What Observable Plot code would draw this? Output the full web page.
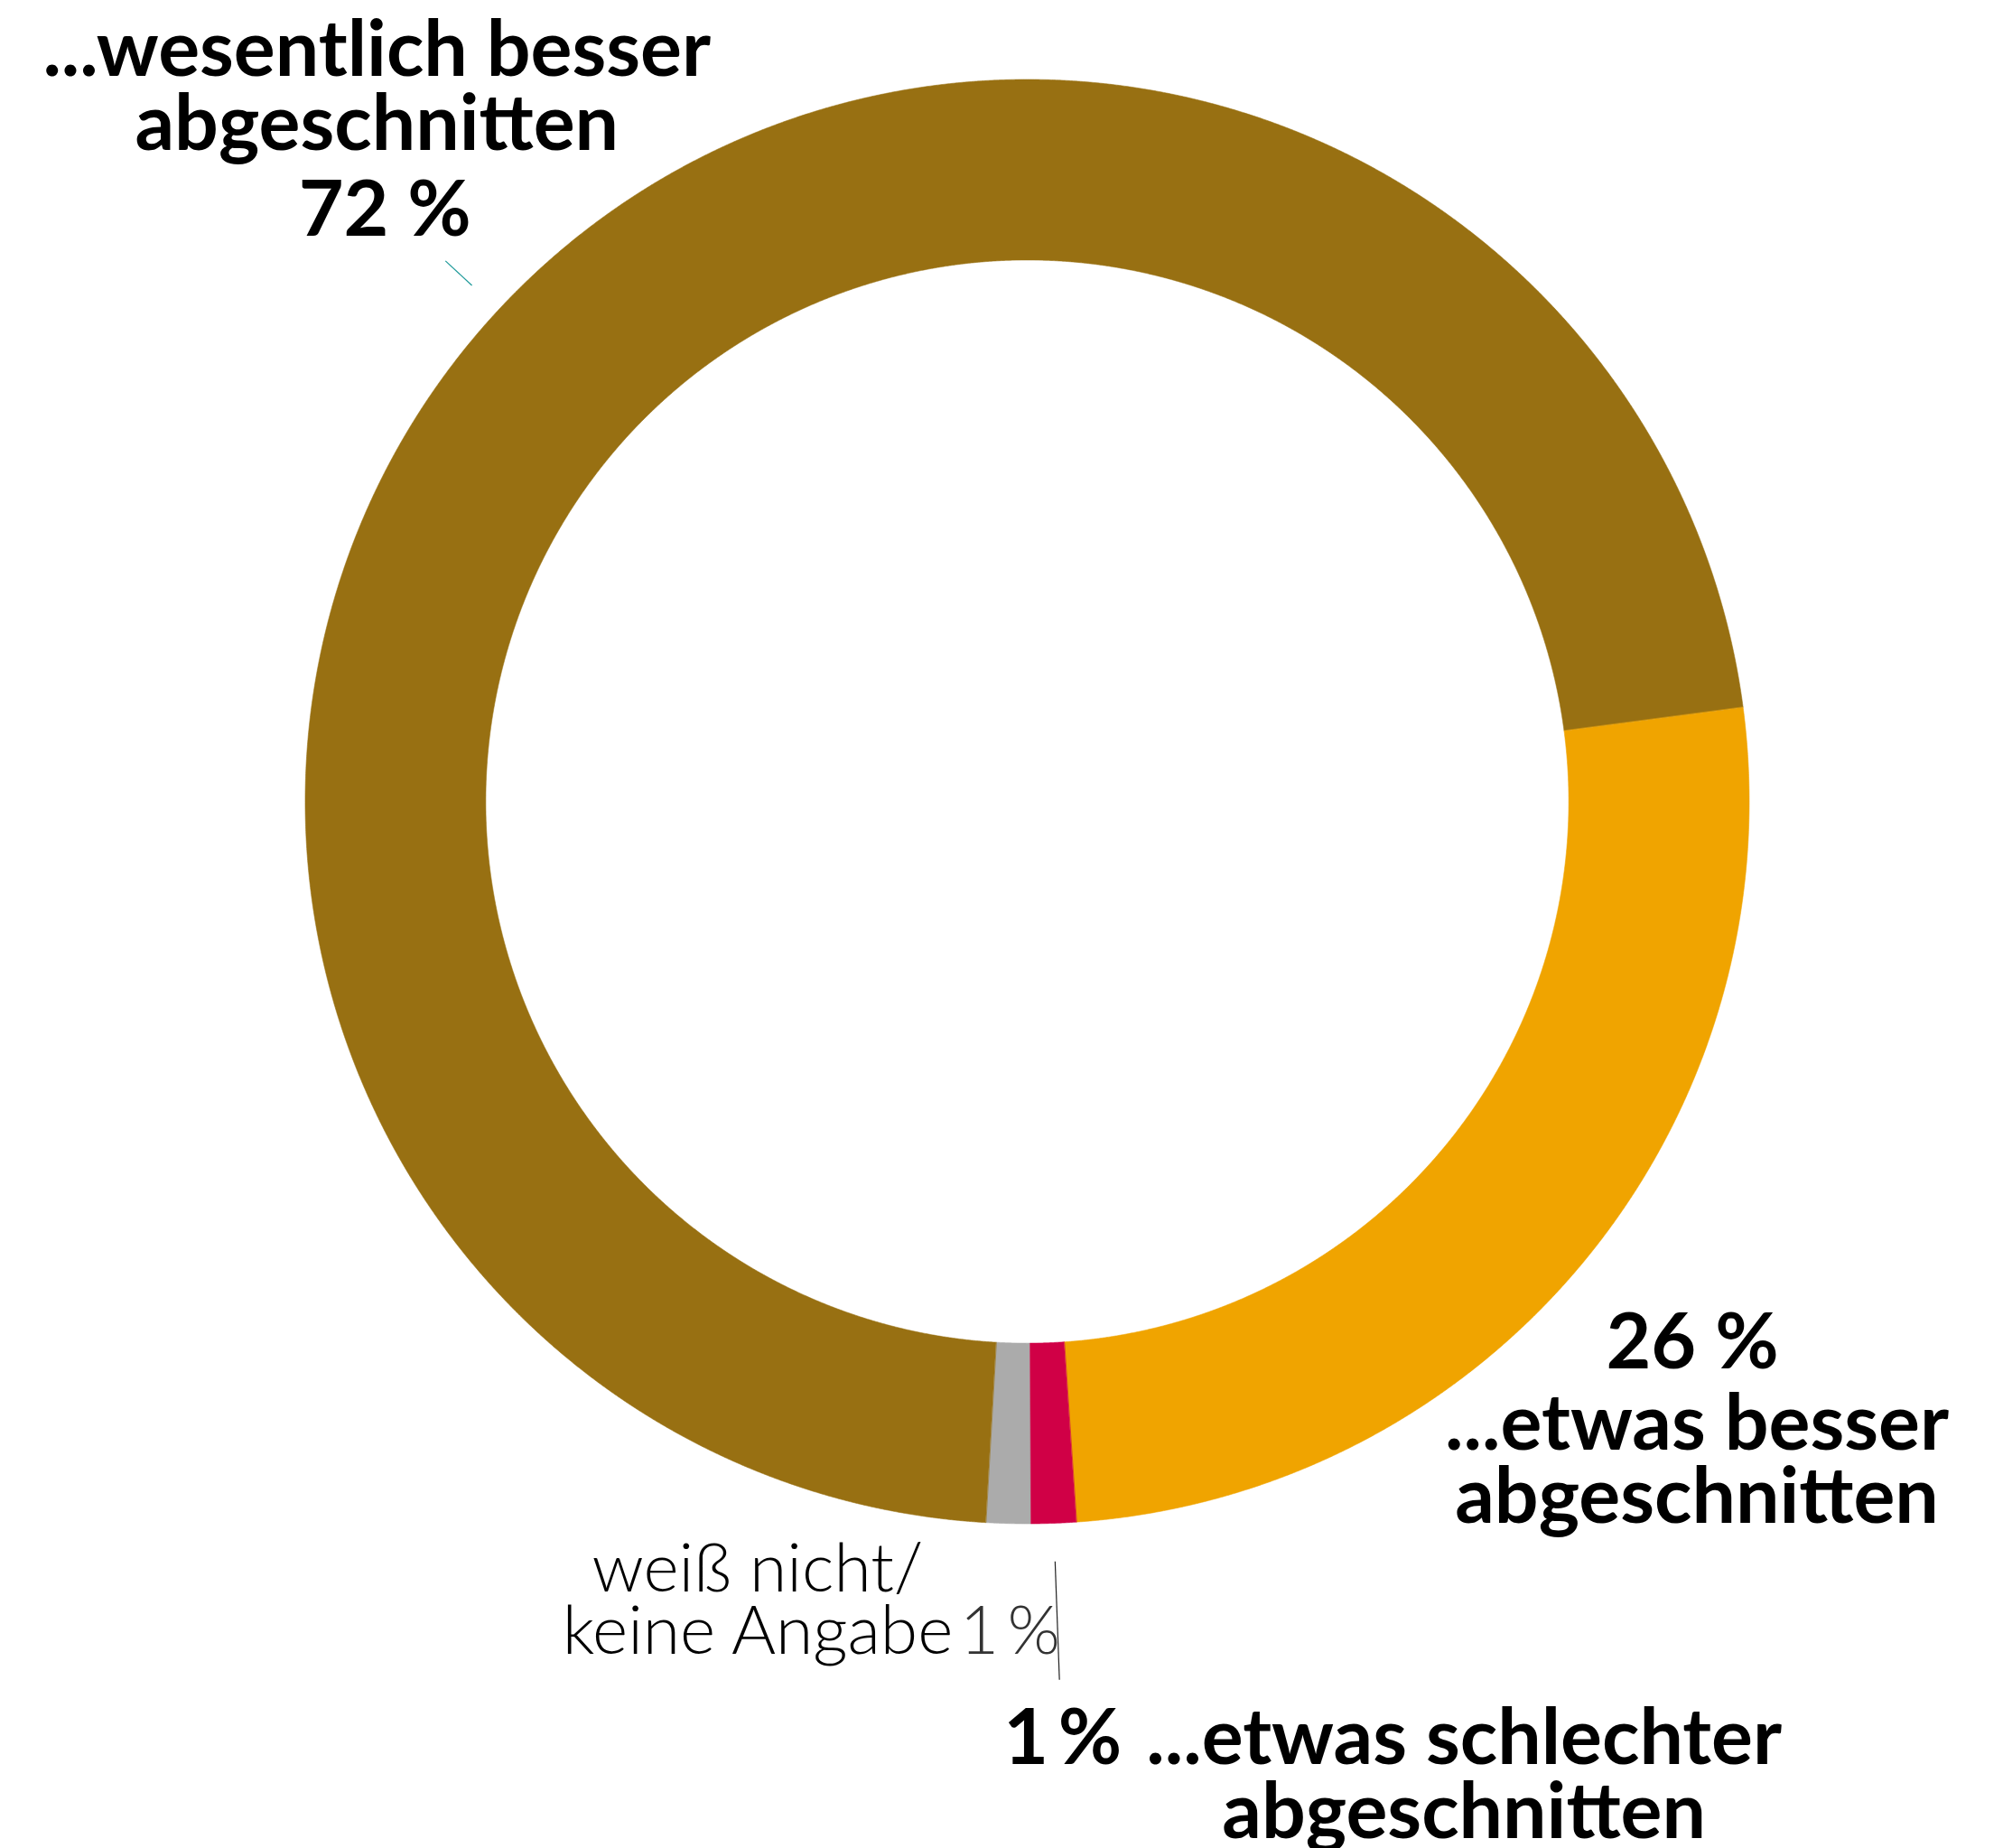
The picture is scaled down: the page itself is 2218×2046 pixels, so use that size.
<!DOCTYPE html>
<html>
<head>
<meta charset="utf-8">
<script src="https://cdn.jsdelivr.net/npm/d3@7"></script>
<script src="https://cdn.jsdelivr.net/npm/@observablehq/plot@0.6"></script>
<style>
  html, body { margin: 0; padding: 0; background: #fff; }
  #chart svg { display: block; }
</style>
</head>
<body>
<div id="chart"></div>
<script>
// ---- data ----
const categories = ["weiß nicht/keine Angabe", "wesentlich besser", "etwas besser", "etwas schlechter"];
const values = [1, 72, 26, 1];
const colors = ["#ababab", "#987012", "#f0a400", "#d00046"];
const percentLabels = ["1\u2009%", "72 %", "26 %", "1\u2009%"];
const nameLabels = [
  "weiß nicht/\nkeine Angabe",
  "...wesentlich besser\nabgeschnitten",
  "...etwas besser\nabgeschnitten",
  "...etwas schlechter\nabgeschnitten"
];

// ---- layout ----
const W = 2218, H = 2046;
const cx = 1137, cy = 887, R = 799.5;   // pixel centre and outer radius
const innerRatio = 0.75;
const start = Math.PI - 0.3 * Math.PI / 180;

const slices = d3.pie().sort(null).startAngle(start).endAngle(start + 2 * Math.PI)
  .value(d => d.value)(categories.map((c, i) => ({key: c, value: values[i], i})));

// polygon points of each ring slice, in units of the outer radius
const pts = [];
for (const s of slices) {
  const n = Math.max(8, Math.ceil((s.endAngle - s.startAngle) / 0.002));
  for (let k = 0; k <= n; k++) {
    const a = s.startAngle + (s.endAngle - s.startAngle) * k / n;
    pts.push({key: s.data.key, x: Math.sin(a), y: Math.cos(a)});
  }
  for (let k = n; k >= 0; k--) {
    const a = s.startAngle + (s.endAngle - s.startAngle) * k / n;
    pts.push({key: s.data.key, x: innerRatio * Math.sin(a), y: innerRatio * Math.cos(a)});
  }
}

const mid = s => (s.startAngle + s.endAngle) / 2;
const polar = (s, r) => ({x: r * Math.sin(mid(s)), y: r * Math.cos(mid(s))});

const sGray = slices[0], sBrown = slices[1], sOrange = slices[2], sRed = slices[3];

const leaders = [
  {a: polar(sBrown, 1.05), b: polar(sBrown, 1.10), c: "#1f9a9a"},
  {a: polar(sRed, 1.053), b: polar(sRed, 1.217), c: "#222"}
];

const bold = {fontFamily: "Lato, sans-serif", fontWeight: 700, fontSize: 86, fill: "#000"};
const light = {fontFamily: "Lato, sans-serif", fontWeight: 300, fontSize: 75, fill: "#000"};

function label(s, r, text, opts) {
  const p = polar(s, r);
  return Plot.text([p], {x: "x", y: "y", text: () => text, lineAnchor: "bottom", ...opts});
}

const chart = Plot.plot({
  width: W,
  height: H,
  margin: 0,
  x: {domain: [-cx / R, (W - cx) / R], axis: null},
  y: {domain: [-(H - cy) / R, cy / R], axis: null},
  color: {domain: categories, range: colors},
  style: {background: "#fff"},
  marks: [
    Plot.line(pts, {x: "x", y: "y", z: "key", fill: "key", stroke: "key", strokeWidth: 0.6, curve: "linear-closed"}),
    Plot.link(leaders, {x1: d => d.a.x, y1: d => d.a.y, x2: d => d.b.x, y2: d => d.b.y, stroke: d => d.c, strokeWidth: 1.2}),
    // 72 %
    label(sBrown, 1.10, nameLabels[1], {...bold, dx: -76, dy: -123, lineHeight: 82 / 86}),
    label(sBrown, 1.10, percentLabels[1], {...bold, dx: -67, dy: -28}),
    // 26 %
    label(sOrange, 1.10, percentLabels[2], {...bold, dx: 56, dy: 70}),
    label(sOrange, 1.10, nameLabels[2], {...bold, dx: 61, dy: 241, lineHeight: 81 / 86}),
    // 1 % etwas schlechter
    label(sRed, 1.217, percentLabels[3], {...bold, textAnchor: "start", dx: -62, dy: 93}),
    label(sRed, 1.217, nameLabels[3], {...bold, dx: 448, dy: 175, lineHeight: 82 / 86}),
    // weiß nicht
    label(sGray, 1.217, nameLabels[0], {...light, dx: -273, dy: -29, lineHeight: 69 / 75}),
    label(sGray, 1.217, percentLabels[0], {...light, fill: "#333", textAnchor: "end", dx: 62, dy: -29})
  ]
});

document.getElementById("chart").appendChild(chart);
</script>
</body>
</html>
